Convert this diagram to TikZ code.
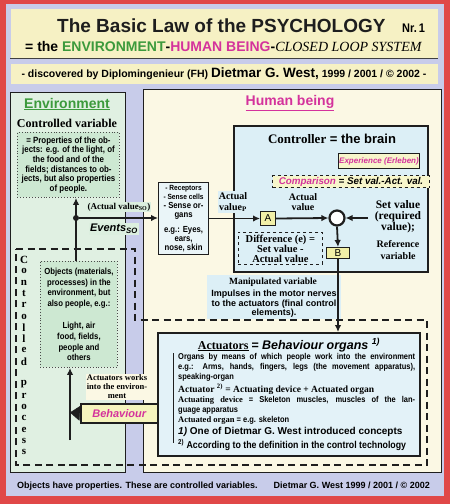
\documentclass[tikz,border=0pt]{standalone}
\usepackage{fontspec}
\setmainfont{Liberation Sans}
\newfontfamily\tms{Liberation Serif}
\newfontfamily\nsf[FakeStretch=0.88]{Liberation Sans}
\usepackage{tikz}
\usetikzlibrary{arrows.meta,positioning}

\definecolor{framered}{HTML}{E04848}
\definecolor{lavender}{HTML}{C8CCEA}
\definecolor{headyellow}{HTML}{F6F1C4}
\definecolor{envgreen}{HTML}{E0F0E2}
\definecolor{dotgreen}{HTML}{CDE8D2}
\definecolor{cream}{HTML}{FBF8E4}
\definecolor{ctrlcyan}{HTML}{DCEFF6}
\definecolor{recbg}{HTML}{EAF5F8}
\definecolor{boxyellow}{HTML}{F2F0A8}
\definecolor{txtgreen}{HTML}{3C9A3C}
\definecolor{txtmag}{HTML}{D4329C}
\definecolor{linecol}{HTML}{1E1E1E}

\begin{document}
\begin{tikzpicture}[x=1pt, y=-1pt,
  frame/.style    = {draw=linecol, line width=1.3pt, anchor=north west,
                     inner sep=0pt},
  dotbox/.style   = {draw=linecol!80, dotted, line width=0.9pt, fill=dotgreen,
                     anchor=north west, inner sep=0pt, align=center,
                     font=\nsf\bfseries\fontsize{9}{9.6}\selectfont},
  smallbox/.style = {draw=linecol, line width=1pt, fill=boxyellow,
                     anchor=north west, inner sep=0pt,
                     font=\fontsize{10}{10}\selectfont},
  lbl/.style      = {inner sep=1pt, align=center,
                     font=\tms\bfseries\fontsize{9}{10}\selectfont},
  txt/.style      = {inner sep=0pt, align=center,
                     font=\bfseries\fontsize{9}{9.6}\selectfont},
  arr/.style      = {-{Latex[length=7pt,width=6.5pt]}, line width=1.8pt,
                     draw=linecol},
  cpline/.style   = {dash pattern=on 7pt off 4.5pt, line width=1.1pt,
                     draw=linecol},
]
\useasboundingbox (0,0) rectangle (450,504);
\fill[framered] (0,0) rectangle (450,504);
\fill[lavender] (6,4) rectangle (444,496);

% header
\node[frame, draw=none, fill=headyellow, minimum width=427pt,
      minimum height=49pt] (head) at (10,8) {};
\draw[linecol!85, line width=1.5pt] (head.south west) -- (head.south east);
\node[anchor=base west, inner sep=0pt, text=linecol,
      font=\bfseries\fontsize{19}{22}\selectfont] (title) at (57,32)
  {The Basic Law of the PSYCHOLOGY};
\node[anchor=base west, inner sep=0pt,
      font=\nsf\bfseries\fontsize{12.5}{14}\selectfont] (nr) at (402,32) {Nr.\,1};
\node[anchor=base west, inner sep=0pt,
      font=\bfseries\fontsize{14}{16}\selectfont] (subtitle) at (25,51)
  {= the \textcolor{txtgreen}{ENVIRONMENT}-\textcolor{txtmag}{HUMAN BEING}-{\tms\mdseries\itshape CLOSED LOOP SYSTEM}};
\node[frame, draw=none, fill=headyellow, minimum width=427pt,
      minimum height=20pt] (disc) at (10,63) {};
\node[anchor=base, inner sep=0pt,
      font=\bfseries\fontsize{10.5}{12}\selectfont] (disctext) at (224,77.5)
  {- discovered by Diplomingenieur (FH) {\fontsize{13.5}{14}\selectfont Dietmar G. West,} 1999 / 2001 / \textcopyright{} 2002 -};

% the two main parts
\node[frame, fill=envgreen, minimum width=115pt, minimum height=380pt] (env) at (10,92) {};
\node[frame, fill=cream, minimum width=298pt, minimum height=383pt] (human) at (143,89) {};

% controlled process
\draw[cpline] (16,249) -- (135,249) -- (135,320) -- (427,320) -- (427,465)
  -- (16,465) -- cycle;
\foreach \ch [count=\i] in {C,o,n,t,r,o,l,l,e,d,{},p,r,o,c,e,s,s}
  \node[lbl, font=\tms\bfseries\fontsize{11}{12}\selectfont] (cp\i)
    at (24,{260+11.3*(\i-1)}) {\ch};

% environment
\node[inner sep=0pt, text=txtgreen, font=\bfseries\fontsize{14}{16}\selectfont]
  (envtitle) at (67,104) {\underline{Environment}};
\node[lbl, font=\tms\bfseries\fontsize{12}{14}\selectfont] (cvtitle) at (67,123)
  {Controlled variable};
\node[dotbox, minimum width=102pt, minimum height=65pt] (cv) at (17,132)
  {= Properties of the ob-\\jects: e.g. of the light, of\\the food and of the\\fields; distances to ob-\\jects, but also properties\\of people.};
\node[dotbox, minimum width=77pt, minimum height=106pt,
      font=\nsf\bfseries\fontsize{8.8}{10.8}\selectfont] (obj) at (40,261)
  {Objects (materials,\\processes) in the\\environment, but\\also people, e.g.:\\[11pt]Light, air\\food, fields,\\people and\\others};

% human being
\node[inner sep=0pt, text=txtmag, font=\bfseries\fontsize{14}{16}\selectfont]
  (hbtitle) at (290,103) {\underline{Human being}};
\node[frame, line width=1.5pt, fill=ctrlcyan, minimum width=194pt,
      minimum height=146pt] (ctrl) at (233,125) {};
\node[inner sep=0pt, font=\bfseries\fontsize{13}{15}\selectfont] (ctrltitle)
  at (332,139) {{\tms Controller} = the brain};
\node[smallbox, fill=boxyellow!60, minimum width=81pt, minimum height=15pt,
      text=txtmag, font=\bfseries\itshape\fontsize{8}{10}\selectfont] (exp)
  at (338,153) {Experience (Erleben)};
\node[smallbox, dashed, fill=boxyellow!60, minimum width=157pt,
      minimum height=12pt, font=\bfseries\itshape\fontsize{9.8}{10}\selectfont]
  (comp) at (272,175) {\textcolor{txtmag}{Comparison} = Set val.-Act. val.};

\node[frame, line width=1.1pt, fill=recbg, minimum width=50pt, minimum height=72pt,
      align=center, font=\nsf\bfseries\fontsize{8.8}{9}\selectfont] (rec)
  at (158,182) {{\fontsize{7.5}{8.5}\selectfont - Receptors}\\{\fontsize{7.5}{8.5}\selectfont - Sense cells}\\- Sense or-\\gans\\[6pt]e.g.: Eyes,\\ears,\\nose, skin};
\node[lbl, fill=ctrlcyan, font=\tms\bfseries\fontsize{10}{11}\selectfont] (avp)
  at (233,202) {Actual\\value\textsubscript{P}};
\node[smallbox, minimum width=15pt, minimum height=14pt] (ablk) at (260,211) {A};
\node[lbl, fill=ctrlcyan, font=\tms\bfseries\fontsize{10}{10.5}\selectfont] (av)
  at (303,202) {Actual\\value};
\node[circle, draw=linecol, line width=2.2pt, fill=white, minimum size=15pt,
      inner sep=0pt] (sum) at (337,218) {};
\coordinate (setpt) at (368,218);
\node[lbl, inner sep=0pt, font=\tms\bfseries\fontsize{11.5}{11}\selectfont] (setval)
  at (398,217) {Set value\\(required\\value);};
\node[lbl, font=\tms\bfseries\fontsize{10}{12}\selectfont] (refvar) at (398,250)
  {Reference\\variable};
\node[smallbox, minimum width=23pt, minimum height=11pt] (bblk) at (326,247) {B};
\node[frame, dashed, line width=0.8pt, minimum width=84pt, minimum height=32pt,
      align=center, font=\tms\bfseries\fontsize{10.5}{10}\selectfont] (diff)
  at (238,232) {Difference (e) =\\Set value -\\Actual value};

\node[frame, draw=none, fill=ctrlcyan, minimum width=134pt, minimum height=44pt]
  (manip) at (206,274) {};
\node[lbl, font=\tms\bfseries\fontsize{9.5}{10}\selectfont] (maniptitle)
  at (273,282) {Manipulated variable};
\node[txt] (impulses) at (274,304)
  {Impulses in the motor nerves\\to the actuators (final control\\elements).};

% actuators
\node[frame, line width=1.5pt, fill=ctrlcyan!80, minimum width=262pt,
      minimum height=123pt] (act) at (157,332) {};
\node[inner sep=0pt] (acttitle) at (289,345)
  {{\tms\bfseries\fontsize{12}{14}\selectfont\underline{Actuators}}
   {\bfseries\itshape\fontsize{12.5}{14}\selectfont = Behaviour organs \textsuperscript{1)}}};
\draw[linecol, line width=0.8pt] (173,353) -- (173,443);
\node[anchor=north west, inner sep=0pt, align=left,
      font=\nsf\bfseries\fontsize{8.5}{10}\selectfont] (acttext) at (178,353)
  {\makebox[237pt][s]{Organs by means of which people work into the environment}\\
   \makebox[237pt][s]{e.g.: Arms, hands, fingers, legs (the movement apparatus),}\\
   speaking-organ\\[2pt]
   {\tms\fontsize{9.5}{10}\selectfont Actuator \textsuperscript{2)} = Actuating device + Actuated organ}\\
   \makebox[237pt][s]{{\tms Actuating device} = Skeleton muscles, muscles of the lan-}\\
   guage apparatus\\
   {\tms Actuated organ} = e.g. skeleton\\[2pt]
   {\normalfont\bfseries\fontsize{10}{10}\selectfont\textit{1)} One of Dietmar G. West introduced concepts}\\[2pt]
   {\fontsize{10}{10}\selectfont\textsuperscript{2)} According to the definition in the control technology}};

\node[frame, line width=1.5pt, fill=boxyellow!75, minimum width=77pt,
      minimum height=19pt, text=txtmag,
      font=\bfseries\itshape\fontsize{11}{12}\selectfont] (behav) at (80,403) {Behaviour};
\coordinate (behtip) at (70,412.5);
\coordinate (vlow) at (70,440);
\node[lbl, fill=cream, font=\tms\bfseries\fontsize{8.5}{9}\selectfont] (works)
  at (117,387) {Actuators works\\into the environ-\\ment};

% connectors
\node[circle, fill=linecol, inner sep=0pt, minimum size=6pt] (jn) at (76,218) {};
\draw[arr] (obj.north -| jn) -- (cv.south -| jn);
\draw[arr] (jn) -- (rec.west |- jn);
\draw[arr] (rec.east |- ablk) -- (ablk.west);
\draw[arr] (ablk.east) -- (sum.west);
\draw[arr] (setpt) -- (sum.east);
\draw[arr] (sum.south) -- (bblk.north);
\draw[arr] (bblk.south) -- (act.north -| bblk);
\draw[-{Triangle[length=10pt,width=15pt]}, draw=linecol, fill=linecol,
      line width=0.5pt] (behav.west) -- (behtip);
\draw[arr] (vlow) -- (obj.south -| vlow);

\node[lbl, fill=dotgreen!70] (avso) at (119,207) {(Actual value\textsubscript{SO})};
\node[lbl, fill=dotgreen!70, font=\bfseries\itshape\fontsize{11}{12}\selectfont]
  (events) at (114,229) {Events\textsubscript{SO}};

% footer
\node[anchor=base west, inner sep=0pt, font=\bfseries\fontsize{9}{10}\selectfont]
  (foot) at (17,488) {Objects have properties. These are controlled variables.};
\node[anchor=base east, inner sep=0pt, font=\bfseries\fontsize{9}{10}\selectfont]
  (copy) at (430,488) {Dietmar G. West 1999 / 2001 / \textcopyright{} 2002};
\end{tikzpicture}
\end{document}
